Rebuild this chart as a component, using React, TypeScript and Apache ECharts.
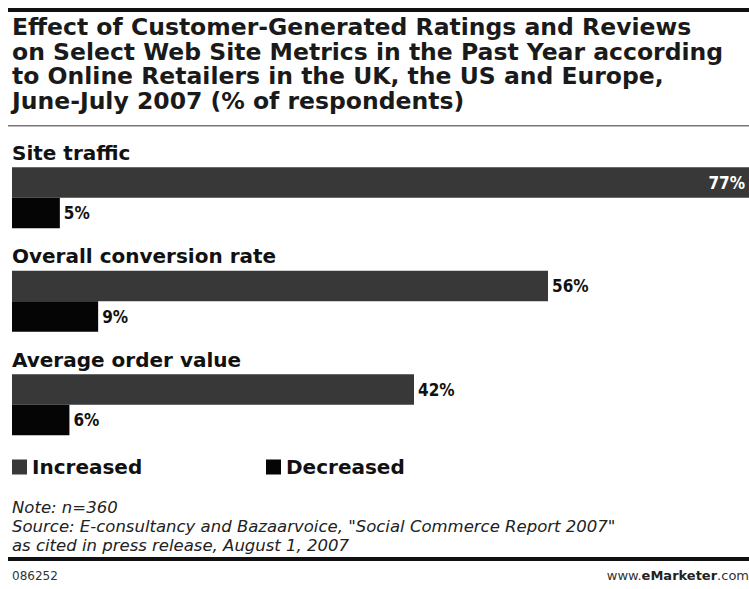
import React, { useEffect, useRef } from "react";
import * as echarts from "echarts";

const categories = ["Site traffic", "Overall conversion rate", "Average order value"];
const increased = [77, 56, 42];
const decreased = [5, 9, 6];
const seriesNames = ["Increased", "Decreased"];

const titleText =
  "Effect of Customer-Generated Ratings and Reviews\non Select Web Site Metrics in the Past Year according\nto Online Retailers in the UK, the US and Europe,\nJune-July 2007 (% of respondents)";
const noteText =
  "Note: n=360\nSource: E-consultancy and Bazaarvoice, \"Social Commerce Report 2007\"\nas cited in press release, August 1, 2007";

export default function App() {
  const ref = useRef<HTMLDivElement>(null);
  useEffect(() => {
    if (!ref.current) return;
    const chart = echarts.init(ref.current, null, { renderer: "svg" });
    const maxInc = Math.max(...increased);
    const valueLabel = {
      show: true,
      position: "right",
      distance: 4,
      formatter: "{c}%",
      color: "#111",
      fontSize: 17,
      fontWeight: "bold",
      fontFamily: "DejaVu Sans Condensed, DejaVu Sans, sans-serif",
    };
    const legendText = {
      fontFamily: "DejaVu Sans, sans-serif",
      fontSize: 20,
      fontWeight: "bold",
      color: "#111",
    };
    chart.setOption({
      animation: false,
      backgroundColor: "#fff",
      title: [
        {
          text: titleText,
          left: 12,
          top: 15,
          padding: 0,
          textStyle: {
            fontFamily: "DejaVu Sans, sans-serif",
            fontSize: 23.5,
            fontWeight: "bold",
            color: "#1a1a1a",
            lineHeight: 24.5,
          },
        },
        {
          text: noteText,
          left: 12,
          top: 498,
          padding: 0,
          textStyle: {
            fontFamily: "DejaVu Sans, sans-serif",
            fontSize: 16.5,
            fontStyle: "italic",
            fontWeight: "normal",
            color: "#222",
            lineHeight: 19,
          },
        },
        {
          text: "086252",
          left: 12,
          top: 570,
          padding: 0,
          textStyle: {
            fontFamily: "DejaVu Sans, sans-serif",
            fontSize: 12,
            fontWeight: "normal",
            color: "#333",
          },
        },
        {
          text: "www.{b|eMarketer}.com",
          right: 0,
          top: 569,
          padding: 0,
          textStyle: {
            fontFamily: "DejaVu Sans, sans-serif",
            fontSize: 13,
            fontWeight: "normal",
            color: "#333",
            rich: {
              b: { fontFamily: "DejaVu Sans, sans-serif", fontSize: 13, fontWeight: "bold", color: "#222" },
            },
          },
        },
      ],
      legend: [
        {
          left: 12,
          top: 457,
          padding: 0,
          icon: "rect",
          itemWidth: 15,
          itemHeight: 15,
          selectedMode: false,
          data: [seriesNames[0]],
          textStyle: legendText,
        },
        {
          left: 266,
          top: 457,
          padding: 0,
          icon: "rect",
          itemWidth: 15,
          itemHeight: 15,
          selectedMode: false,
          data: [seriesNames[1]],
          textStyle: legendText,
        },
      ],
      graphic: [
        { type: "rect", shape: { x: 8, y: 8, width: 741, height: 4 }, style: { fill: "#111" } },
        { type: "rect", shape: { x: 8, y: 125, width: 741, height: 1.5 }, style: { fill: "#777" } },
        { type: "rect", shape: { x: 8, y: 557, width: 741, height: 4 }, style: { fill: "#111" } },
      ],
      grid: { left: 12, right: 0, top: 146, bottom: 132.5, containLabel: false },
      xAxis: { type: "value", min: 0, max: 77, show: false },
      yAxis: {
        type: "category",
        data: categories,
        inverse: true,
        axisLine: { show: false },
        axisTick: { show: false },
        splitLine: { show: false },
        axisLabel: {
          inside: true,
          margin: 0,
          align: "left",
          verticalAlign: "bottom",
          padding: [0, 0, 35, 0],
          fontFamily: "DejaVu Sans, sans-serif",
          fontSize: 20,
          fontWeight: "bold",
          color: "#111",
        },
        z: 10,
      },
      series: [
        {
          name: seriesNames[0],
          type: "bar",
          barWidth: 30.5,
          barGap: "0%",
          itemStyle: { color: "#383838" },
          label: valueLabel,
          data: increased.map((v) =>
            v === maxInc
              ? { value: v, label: { position: "insideRight", color: "#fff", distance: 4 } }
              : v
          ),
        },
        {
          name: seriesNames[1],
          type: "bar",
          barWidth: 30.5,
          barGap: "0%",
          itemStyle: { color: "#050505" },
          label: valueLabel,
          data: decreased,
        },
      ],
    });
    return () => chart.dispose();
  }, []);
  return (
    <div
      ref={ref}
      style={{ position: "absolute", left: 0, top: 0, width: 749, height: 589 }}
    />
  );
}
